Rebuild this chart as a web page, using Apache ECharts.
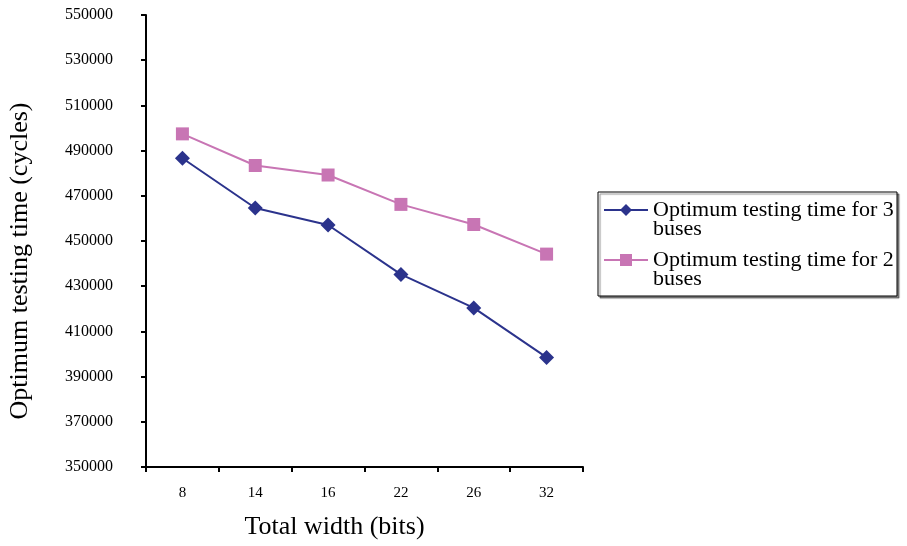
<!DOCTYPE html>
<html>
<head>
<meta charset="utf-8">
<script src="https://cdn.jsdelivr.net/npm/echarts@6/dist/echarts.min.js"></script>
<style>html,body{margin:0;padding:0;background:#fff}#c{width:907px;height:546px}</style>
</head>
<body>
<div id="c"></div>
<script>
const categories = ['8', '14', '16', '22', '26', '32'];
const bus3 = [486600, 464600, 457100, 435200, 420400, 398500];
const bus2 = [497400, 483400, 479200, 466200, 457300, 444200];
const seriesNames = ['Optimum testing time for 3\nbuses', 'Optimum testing time for 2\nbuses'];
const yMin = 350000, yMax = 550000, yStep = 20000;

const FONT = '"Liberation Serif", "Times New Roman", serif';
const chart = echarts.init(document.getElementById('c'));
chart.setOption({
  animation: false,
  backgroundColor: '#fff',
  grid: { left: 146, right: 324, top: 15, bottom: 79 },
  graphic: [{
    type: 'rect', z: 0,
    shape: { x: 598, y: 192, width: 299, height: 104 },
    style: { fill: '#fff', stroke: '#000', lineWidth: 1, shadowColor: 'rgba(0,0,0,0.45)', shadowOffsetX: 2, shadowOffsetY: 2, shadowBlur: 1 }
  }],
  legend: {
    orient: 'vertical', left: 603, top: 180, padding: 0, itemGap: -10,
    itemWidth: 44, itemHeight: 15,
    formatter: function (name) { return '\u00a0\n' + name; },
    textStyle: { fontFamily: FONT, fontSize: 22, color: '#000', lineHeight: 19 },
    data: seriesNames
  },
  xAxis: {
    type: 'category', data: categories, boundaryGap: true,
    name: 'Total width (bits)', nameLocation: 'middle', nameGap: 47,
    nameTextStyle: { fontFamily: FONT, fontSize: 26, color: '#000', padding: [0, 60, 0, 0] },
    axisLine: { lineStyle: { color: '#000', width: 2 } },
    axisTick: { show: true, length: 5, inside: false, alignWithLabel: false, lineStyle: { color: '#000', width: 2 } },
    axisLabel: { fontFamily: FONT, fontSize: 15, color: '#000', margin: 19 },
    splitLine: { show: false }
  },
  yAxis: {
    type: 'value', min: yMin, max: yMax, interval: yStep,
    name: 'Optimum testing time (cycles)', nameLocation: 'middle', nameGap: 113,
    nameTextStyle: { fontFamily: FONT, fontSize: 26, color: '#000', padding: [0, 40, 0, 0] },
    axisLine: { show: true, lineStyle: { color: '#000', width: 2 } },
    axisTick: { show: true, length: 5, inside: false, lineStyle: { color: '#000', width: 2 } },
    axisLabel: { fontFamily: FONT, fontSize: 16, color: '#000', margin: 33, formatter: function (v) { return String(v); } },
    splitLine: { show: false }
  },
  series: [
    {
      name: seriesNames[0], type: 'line', data: bus3,
      symbol: 'diamond', symbolSize: 15,
      lineStyle: { color: '#2B338C', width: 2 },
      itemStyle: { color: '#2B338C' }
    },
    {
      name: seriesNames[1], type: 'line', data: bus2,
      symbol: 'rect', symbolSize: 13,
      lineStyle: { color: '#C875B4', width: 2 },
      itemStyle: { color: '#C875B4' }
    }
  ]
});
</script>
</body>
</html>
